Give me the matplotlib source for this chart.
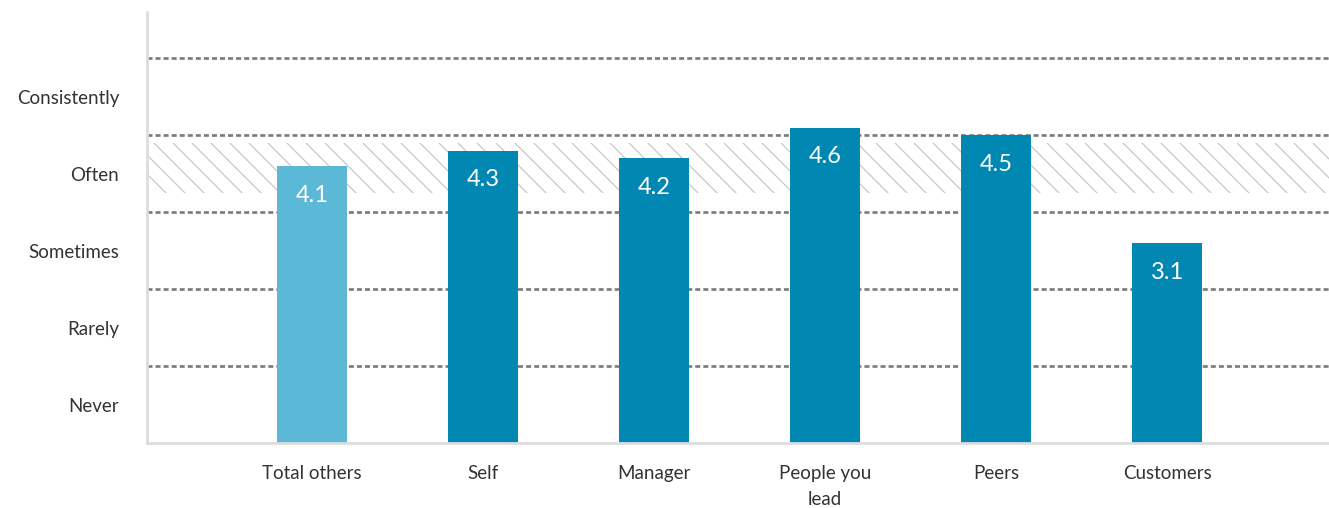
import numpy as np
import matplotlib.pyplot as plt

plt.rcParams['font.family'] = ['Lato', 'DejaVu Sans']
plt.rcParams['lines.scale_dashes'] = False

groups = ["Total others", "Self", "Manager", "People you\nlead", "Peers", "Customers"]
scores = [4.1, 4.3, 4.2, 4.6, 4.5, 3.1]
bar_colors = ["#5bb8d6", "#0088b3", "#0088b3", "#0088b3", "#0088b3", "#0088b3"]
levels = ["Never", "Rarely", "Sometimes", "Often", "Consistently"]
level_pos = [1, 2, 3, 4, 5]
norm_low = 3.75
norm_high = 4.4

fig = plt.figure(figsize=(13.29, 5.08), dpi=100)
ax = fig.add_axes([0.1106, 0.128, 0.8894, 0.848])
ax.set_xlim(-0.965, 5.947)
ax.set_ylim(0.5, 6.1)

# hatched band: diagonal lines drawn in data units, 45 degrees on screen
px_x = 171.0   # pixels per x unit
px_y = 77.0    # pixels per y unit
band_h = (norm_high - norm_low) * px_y / px_x
step = 19.0 / px_x
band_clip = plt.Rectangle((-0.965, norm_low), 7.0, norm_high - norm_low, transform=ax.transData)
for x0 in np.arange(-0.965 - band_h, 5.95, step):
    ln, = ax.plot([x0, x0 + band_h], [norm_high, norm_low], color='#c8c8c8', lw=0.9, zorder=0)
    ln.set_clip_path(band_clip)

# dashed separators between the frequency levels
for y in np.arange(1.5, 6.0, 1.0):
    ax.axhline(y, color='#7a7a7a', lw=1.9, dashes=[3.6, 2.2], zorder=1)

x = np.arange(len(groups))
bars = ax.bar(x, [s - 0.5 for s in scores], width=0.41, bottom=0.5, color=bar_colors, zorder=2)
for xi, s in zip(x, scores):
    ax.text(xi, s - 0.38, f"{s}", ha='center', va='center',
            color='white', fontsize=17, zorder=3)

ax.set_xticks(x)
ax.set_xticklabels(groups, fontsize=13.5, color='#333333', linespacing=1.6, va='top')
ax.set_yticks(level_pos)
ax.set_yticklabels(levels, fontsize=13.5, color='#333333')
ax.tick_params(axis='x', length=0, pad=16)
ax.tick_params(axis='y', length=0, pad=20)

for side in ['top', 'right']:
    ax.spines[side].set_visible(False)
for side in ['left', 'bottom']:
    ax.spines[side].set_color('#dddddd')
    ax.spines[side].set_linewidth(2)

plt.savefig("out.png", dpi=100)
